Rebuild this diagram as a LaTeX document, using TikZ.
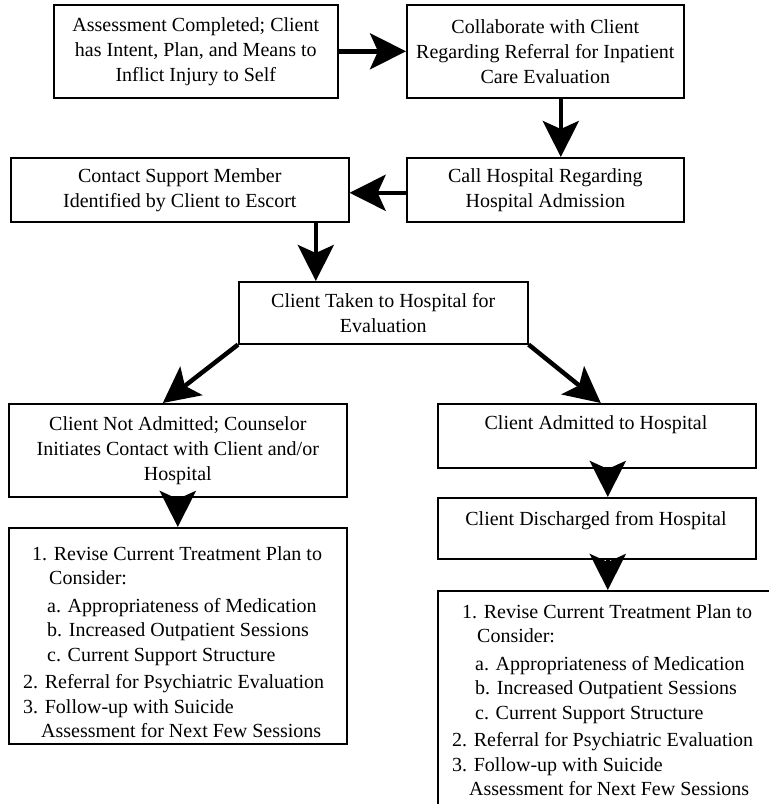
\documentclass[tikz,border=0pt]{standalone}
\usepackage{fontspec}
\setmainfont{Liberation Serif}
\usetikzlibrary{arrows.meta}
\begin{document}
\begin{tikzpicture}[x=1pt,y=-1pt,
  box/.style={draw, line width=1.6pt, inner sep=0pt, anchor=north west, align=center,
    font=\fontsize{20}{25}\selectfont},
  txt/.style={inner sep=0pt, align=center, font=\fontsize{20}{25}\selectfont},
  list/.style={inner sep=0pt, anchor=north west, align=left, font=\fontsize{20}{24.5}\selectfont},
  arr/.style={line width=4.5pt, -{Stealth[length=36pt,width=36pt,inset=8pt]}}]
\useasboundingbox (0,0) rectangle (769,804);
\node[box, minimum width=284pt, minimum height=93pt] (A) at (53,4)
  {Assessment Completed; Client\\has Intent, Plan, and Means to\\Inflict Injury to Self};
\node[box, minimum width=277pt, minimum height=93pt] (B) at (406,4)
  {Collaborate with Client\\Regarding Referral for Inpatient\\Care Evaluation};
\node[box, minimum width=277pt, minimum height=64pt] (C) at (406,157)
  {Call Hospital Regarding\\Hospital Admission};
\node[box, minimum width=338pt, minimum height=64pt] (D) at (10,157)
  {Contact Support Member\\Identified by Client to Escort};
\node[box, minimum width=289pt, minimum height=62pt] (E) at (238,281)
  {Client Taken to Hospital for\\Evaluation};
\node[box, minimum width=338pt, minimum height=93pt] (F) at (8,403)
  {Client Not Admitted; Counselor\\Initiates Contact with Client and/or\\Hospital};
\node[box, minimum width=318pt, minimum height=64pt] (G) at (437,403) {};
\node[txt] (Gt) at (596,425) {Client Admitted to Hospital};
\node[box, minimum width=318pt, minimum height=61pt] (H) at (437,497) {};
\node[txt] (Ht) at (596,521) {Client Discharged from Hospital};
\node[box, minimum width=338pt, minimum height=216pt] (J) at (8,527) {};
\node[list] (Jt) at (23,546) {\hspace*{9pt}1. Revise Current Treatment Plan to\\
  \hspace*{26pt}Consider:\\[3pt]
  \hspace*{24pt}a. Appropriateness of Medication\\
  \hspace*{24pt}b. Increased Outpatient Sessions\\
  \hspace*{24pt}c. Current Support Structure\\[3pt]
  2. Referral for Psychiatric Evaluation\\
  3. Follow-up with Suicide\\
  \hspace*{18pt}Assessment for Next Few Sessions};
\begin{scope}
\clip (0,0) rectangle (769,804);
\node[box, minimum width=345pt, minimum height=230pt] (I) at (437,590) {};
\end{scope}
\node[list] (It) at (452,604) {\hspace*{10pt}1. Revise Current Treatment Plan to\\
  \hspace*{25pt}Consider:\\[3pt]
  \hspace*{23pt}a. Appropriateness of Medication\\
  \hspace*{23pt}b. Increased Outpatient Sessions\\
  \hspace*{23pt}c. Current Support Structure\\[3pt]
  2. Referral for Psychiatric Evaluation\\
  3. Follow-up with Suicide\\
  \hspace*{17pt}Assessment for Next Few Sessions};
\draw[arr] (A.east) -- (B.west);
\draw[arr] ([xshift=15.5pt]B.south) -- ([xshift=15.5pt]C.north);
\draw[arr] ([yshift=-3pt]C.west) -- ([yshift=-3pt]D.east);
\draw[arr] ([xshift=136pt]D.south) -- ([xshift=-67.5pt]E.north);
\draw[arr] (E.south west) -- ([xshift=-15pt]F.north);
\draw[arr] (E.south east) -- ([xshift=4pt]G.north);
\draw[arr] ([yshift=2pt]F.south) -- (J.north);
\draw[arr] ([xshift=11pt,yshift=2pt]G.south) -- ([xshift=11pt]H.north);
\draw[arr] ([xshift=11pt,yshift=2pt]H.south) -- ([xshift=-2.5pt]I.north);
\end{tikzpicture}
\end{document}
